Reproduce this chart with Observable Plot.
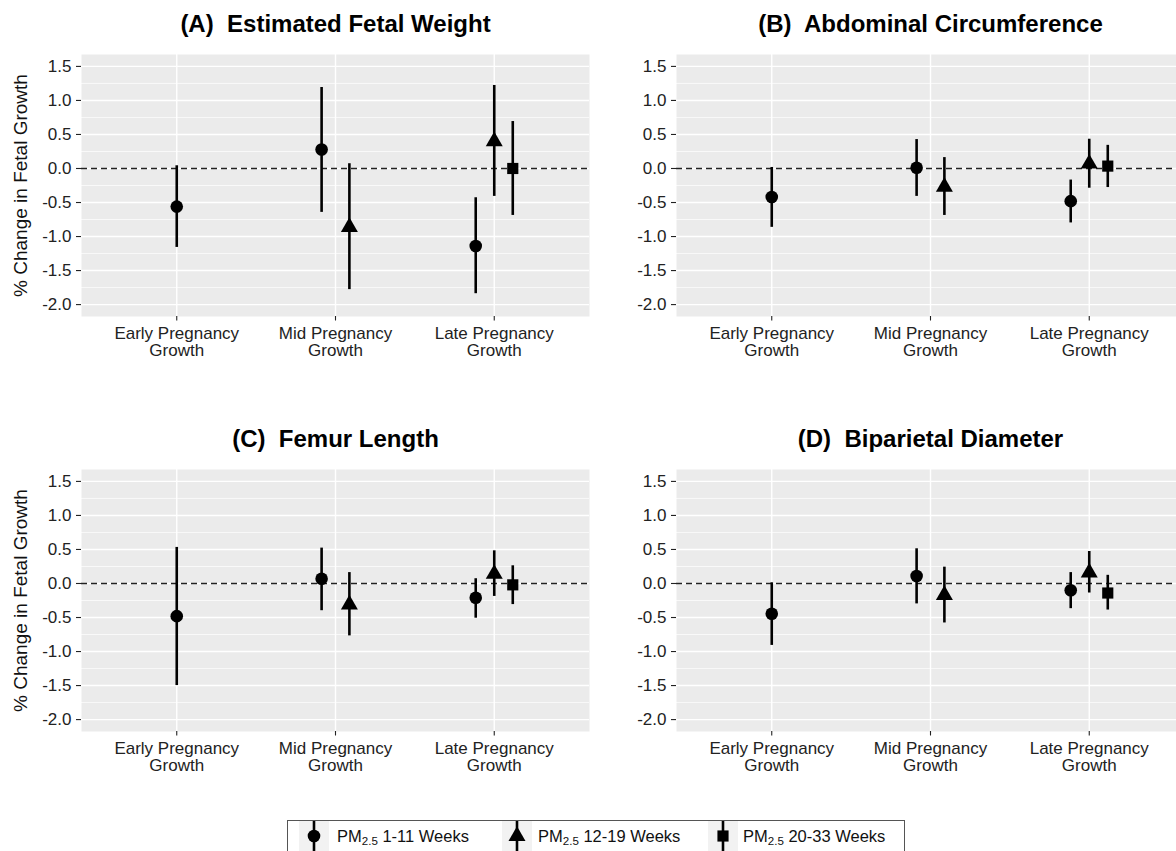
<!DOCTYPE html>
<html>
<head>
<meta charset="utf-8">
<script src="https://cdn.jsdelivr.net/npm/d3@7"></script>
<script src="https://cdn.jsdelivr.net/npm/@observablehq/plot@0.6"></script>
<style>
  html, body { margin: 0; padding: 0; background: #fff; }
  #chart { position: relative; width: 1176px; height: 851px; overflow: hidden;
           font-family: "Liberation Sans", Arial, sans-serif; background: #fff; }
  .panel { position: absolute; }
  .panel svg { overflow: visible; }
  .ptitle text { white-space: pre; }
  #legend { position: absolute; left: 287px; top: 820px; width: 618px; height: 60px;
            border: 1px solid #555; box-sizing: border-box; background: #fff; }
  .key { position: absolute; top: 0px; }
  .ltext { position: absolute; top: 5px; font-size: 16.5px; line-height: 20px; color: #111; white-space: nowrap; }
  .ltext sub { font-size: 0.7em; line-height: 0; vertical-align: -0.25em; }
</style>
</head>
<body>
<div id="chart"></div>
<script>
// ---- data ----
const periods = ["Early Pregnancy\nGrowth", "Mid Pregnancy\nGrowth", "Late Pregnancy\nGrowth"];
const windows = ["PM2.5 1-11 Weeks", "PM2.5 12-19 Weeks", "PM2.5 20-33 Weeks"];
const windowWeeks = ["1-11 Weeks", "12-19 Weeks", "20-33 Weeks"];
const panelTitles = ["(A)  Estimated Fetal Weight", "(B)  Abdominal Circumference",
                     "(C)  Femur Length", "(D)  Biparietal Diameter"];
const yTicks = [-2.0, -1.5, -1.0, -0.5, 0.0, 0.5, 1.0, 1.5];
const yLabel = "% Change in Fetal Growth";

// each estimate: which growth period and which exposure window
const periodOf = [0, 1, 1, 2, 2, 2];
const windowOf = [0, 0, 1, 0, 1, 2];

// (A) Estimated Fetal Weight
const efwEst = [-0.56, 0.28, -0.86, -1.14, 0.40, 0.00];
const efwLo  = [-1.16, -0.645, -1.78, -1.84, -0.41, -0.69];
const efwHi  = [0.04, 1.19, 0.07, -0.43, 1.22, 0.69];
// (B) Abdominal Circumference
const acEst = [-0.42, 0.01, -0.27, -0.48, 0.07, 0.035];
const acLo  = [-0.865, -0.41, -0.69, -0.80, -0.29, -0.28];
const acHi  = [0.015, 0.425, 0.16, -0.17, 0.43, 0.34];
// (C) Femur Length
const flEst = [-0.48, 0.07, -0.31, -0.21, 0.14, -0.02];
const flLo  = [-1.50, -0.40, -0.77, -0.51, -0.19, -0.31];
const flHi  = [0.53, 0.52, 0.16, 0.07, 0.48, 0.26];
// (D) Biparietal Diameter
const bpdEst = [-0.445, 0.11, -0.17, -0.10, 0.16, -0.14];
const bpdLo  = [-0.91, -0.30, -0.58, -0.37, -0.14, -0.39];
const bpdHi  = [0.01, 0.51, 0.24, 0.16, 0.47, 0.12];

// ---- chart ----
const symbols = ["circle", "triangle", "square"];
const dodge = 0.35;
const R = 6.3;
const FONT = '"Liberation Sans", Arial, sans-serif';
const minorTicks = yTicks.slice(1).map((t, i) => (t + yTicks[i]) / 2);

function rowsFor(est, lo, hi) {
  return est.map((e, i) => {
    const p = periodOf[i];
    const members = periodOf.map((q, k) => (q === p ? k : -1)).filter(k => k >= 0);
    const n = members.length, j = members.indexOf(i);
    return {
      pos: p + 1 + (j - (n - 1) / 2) * dodge / n,
      window: windows[windowOf[i]],
      est: e, lo: lo[i], hi: hi[i]
    };
  });
}

function panel(title, est, lo, hi, opts) {
  const rows = rowsFor(est, lo, hi);
  const marks = [
    Plot.frame({fill: "#EBEBEB", stroke: "none"}),
    Plot.gridY(minorTicks, {stroke: "#fff", strokeOpacity: 1, strokeWidth: 0.7}),
    Plot.gridY(yTicks, {stroke: "#fff", strokeOpacity: 1, strokeWidth: 1.4}),
    Plot.gridX([1, 2, 3], {stroke: "#fff", strokeOpacity: 1, strokeWidth: 1.4}),
    Plot.axisY(yTicks, {tickFormat: d => d.toFixed(1), tickSize: 5, tickPadding: 5,
      fontSize: 17, color: "#222", strokeWidth: 1.1, label: null}),
    Plot.axisX([1, 2, 3], {tickFormat: d => periods[d - 1], tickSize: 4.5, tickPadding: 5,
      fontSize: 17, lineHeight: 1.04, color: "#222", strokeWidth: 1.1, label: null}),
    Plot.ruleY([0], {stroke: "#222", strokeWidth: 1.5, strokeDasharray: "6,4"}),
    Plot.ruleX(rows, {x: "pos", y1: "lo", y2: "hi", stroke: "#000", strokeWidth: 2.6}),
    Plot.dot(rows, {x: "pos", y: "est", symbol: "window", fill: "#000", stroke: "none", r: R}),
    Plot.text([title], {frameAnchor: "top", lineAnchor: "bottom", dy: -22.5, fontSize: 24,
      fontWeight: "bold", fill: "#000", className: "ptitle"})
  ];
  if (opts.ylabel) {
    marks.push(Plot.text([yLabel], {frameAnchor: "left", rotate: -90, dx: -61,
      lineAnchor: "middle", textAnchor: "middle", fontSize: 19, fill: "#111"}));
  }
  return Plot.plot({
    width: opts.width, height: 380,
    marginLeft: opts.marginLeft, marginRight: 0, marginTop: 54, marginBottom: 64,
    style: {fontFamily: FONT, background: "transparent", maxWidth: "none", overflow: "visible"},
    x: {type: "linear", domain: [0.4, 3.6]},
    y: {domain: [-2.175, 1.675]},
    symbol: {domain: windows, range: symbols},
    marks
  });
}

const chart = document.getElementById("chart");
const specs = [
  [panelTitles[0], efwEst, efwLo, efwHi, {left: 0, top: 0, width: 589, marginLeft: 81, ylabel: true}],
  [panelTitles[1], acEst, acLo, acHi, {left: 589, top: 0, width: 595, marginLeft: 87, ylabel: false}],
  [panelTitles[2], flEst, flLo, flHi, {left: 0, top: 415, width: 589, marginLeft: 81, ylabel: true}],
  [panelTitles[3], bpdEst, bpdLo, bpdHi, {left: 589, top: 415, width: 595, marginLeft: 87, ylabel: false}]
];
for (const [t, e, l, h, o] of specs) {
  const div = document.createElement("div");
  div.className = "panel";
  div.style.left = o.left + "px";
  div.style.top = o.top + "px";
  div.style.width = o.width + "px";
  div.appendChild(panel(t, e, l, h, o));
  chart.appendChild(div);
}

// ---- legend ----
const legend = document.createElement("div");
legend.id = "legend";
const keyCenters = [314, 517, 723];
const textLefts = [337, 538, 743];
windows.forEach((w, i) => {
  const kx = keyCenters[i] - 287 - 1 - 15;
  const svg = d3.create("svg").attr("class", "key").attr("width", 30).attr("height", 30)
    .style("left", kx + "px");
  svg.append("rect").attr("width", 30).attr("height", 30).attr("fill", "#F2F2F2");
  svg.append("line").attr("x1", 15).attr("x2", 15).attr("y1", 0).attr("y2", 30)
    .attr("stroke", "#000").attr("stroke-width", 2.6);
  const sym = {circle: d3.symbolCircle, triangle: d3.symbolTriangle, square: d3.symbolSquare}[symbols[i]];
  svg.append("path").attr("transform", "translate(15,15)")
    .attr("d", d3.symbol(sym, Math.PI * R * R)()).attr("fill", "#000");
  legend.appendChild(svg.node());
  const t = document.createElement("div");
  t.className = "ltext";
  t.style.left = (textLefts[i] - 288) + "px";
  t.innerHTML = "PM<sub>2.5</sub> " + windowWeeks[i];
  t.title = w;
  legend.appendChild(t);
});
chart.appendChild(legend);
</script>
</body>
</html>
